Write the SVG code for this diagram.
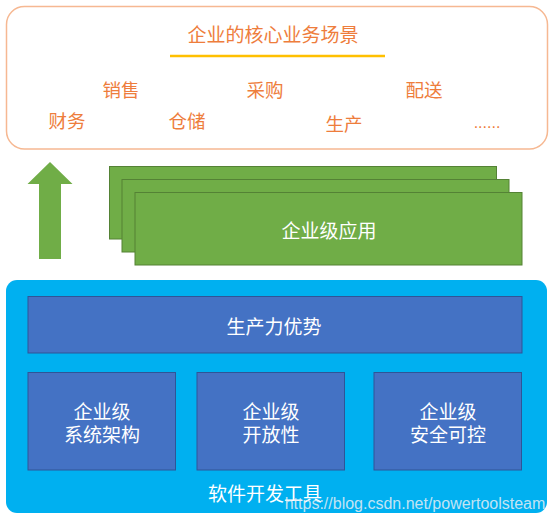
<svg xmlns="http://www.w3.org/2000/svg" width="554" height="522" viewBox="0 0 554 522">
<style>
text{font-family:"Noto Sans CJK SC","Noto Sans",sans-serif;text-anchor:middle;dominant-baseline:central}
.or{fill:#ee7d3c;font-size:18.5px}
.wt{fill:#ffffff;font-size:19px}
.green{fill:#70ad47;stroke:#548235;stroke-width:1}
.dark{fill:#4472c4;stroke:#2f5597;stroke-width:1}
</style>
<rect width="554" height="522" fill="#ffffff"/>
<g id="scenarios">
<rect x="6.5" y="6.5" width="541" height="142.5" rx="18" fill="#ffffff" stroke="#f6b892" stroke-width="1.5"/>
<text class="or" x="273" y="33" style="font-size:19px">企业的核心业务场景</text>
<line x1="170" y1="56" x2="385" y2="56" stroke="#ffc000" stroke-width="2.5"/>
<text class="or" x="121" y="89">销售</text>
<text class="or" x="265" y="89">采购</text>
<text class="or" x="424" y="89">配送</text>
<text class="or" x="67" y="120">财务</text>
<text class="or" x="187" y="120">仓储</text>
<text class="or" x="344" y="123">生产</text>
<text class="or" x="487" y="122" style="font-family:'Liberation Sans',sans-serif;font-size:16px">......</text>
</g>
<g id="connectors">
<polygon points="50,162 72.5,184 61,184 61,259 39,259 39,184 27.5,184" fill="#70ad47"/>
</g>
<g id="apps">
<rect class="green" x="109.5" y="166.5" width="387" height="72.5"/>
<rect class="green" x="122" y="179.5" width="387" height="72.5"/>
<rect class="green" x="135" y="192.5" width="387" height="72.5"/>
<text class="wt" x="329" y="229">企业级应用</text>
</g>
<g id="tools">
<rect x="6" y="280" width="541" height="233" rx="11" fill="#00b0f0"/>
<text class="wt" x="265" y="492">软件开发工具</text>
</g>
<g id="productivity">
<rect class="dark" x="28" y="296.5" width="494" height="56.5"/>
<text class="wt" x="274" y="325">生产力优势</text>
</g>
<g id="architecture">
<rect class="dark" x="28" y="372.5" width="147.5" height="97.5"/>
<text class="wt" x="102" y="409.5"><tspan x="102">企业级</tspan><tspan x="102" dy="23.5">系统架构</tspan></text>
</g>
<g id="openness">
<rect class="dark" x="197" y="372.5" width="147.5" height="97.5"/>
<text class="wt" x="271" y="409.5"><tspan x="271">企业级</tspan><tspan x="271" dy="23.5">开放性</tspan></text>
</g>
<g id="security">
<rect class="dark" x="374" y="372.5" width="147.5" height="97.5"/>
<text class="wt" x="448" y="409.5"><tspan x="448">企业级</tspan><tspan x="448" dy="23.5">安全可控</tspan></text>
</g>
<text x="415" y="503" style="font-family:'Liberation Sans',sans-serif;font-size:16px;fill:#e6eef4;fill-opacity:0.85">https://blog.csdn.net/powertoolsteam</text>
</svg>
